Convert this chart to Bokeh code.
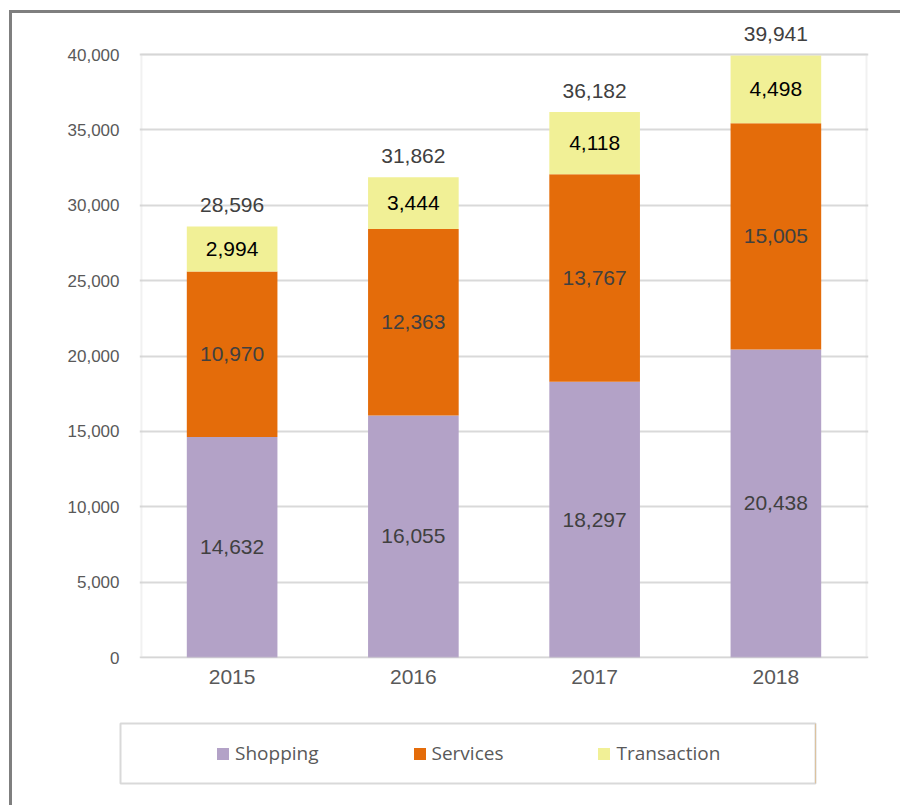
from bokeh.plotting import figure
from bokeh.layouts import row, column
from bokeh.models import (ColumnDataSource, Legend, LegendItem, Div, BoxAnnotation,
                          FixedTicker, NumeralTickFormatter, LabelSet, Range1d, FactorRange)
from bokeh.core.properties import value
from bokeh.embed import file_html
from bokeh.resources import INLINE

# ---- data ----
years = ["2015", "2016", "2017", "2018"]
shopping = [14632, 16055, 18297, 20438]
services = [10970, 12363, 13767, 15005]
transaction = [2994, 3444, 4118, 4498]
totals = [28596, 31862, 36182, 39941]
y_ticks = [0, 5000, 10000, 15000, 20000, 25000, 30000, 35000, 40000]
series_names = ["Shopping", "Services", "Transaction"]
colors = ["#B3A2C7", "#E46C0A", "#F1F096"]

series = [shopping, services, transaction]
data = {"year": years, "total": totals,
        "total_label": [f"{v:,}" for v in totals]}
for name, vals in zip(series_names, series):
    data[name] = vals

bottoms = [0] * len(years)
for name, vals in zip(series_names, series):
    data[name + "_mid"] = [b + v / 2 for b, v in zip(bottoms, vals)]
    data[name + "_label"] = [f"{v:,}" for v in vals]
    bottoms = [b + v for b, v in zip(bottoms, vals)]

source = ColumnDataSource(data)

# ---- layout geometry (pixels) ----
axis_top = y_ticks[-1]
px_per_unit = 603 / axis_top          # plot area: 603 px tall for 0..40,000
extra_top_px = 39                     # room above the plot area for the top total label
y_start = -1 / px_per_unit
y_end = axis_top + extra_top_px / px_per_unit

# ---- main chart ----
p = figure(x_range=FactorRange(*years, range_padding=0.011, range_padding_units="absolute"),
           y_range=Range1d(y_start, y_end),
           width=888, height=687, output_backend="svg", toolbar_location=None,
           min_border_left=127, min_border_right=32, min_border_top=2,
           min_border_bottom=42)

renderers = p.vbar_stack(series_names, x="year", width=0.5, fill_color=colors,
                         line_color=None, source=source)

label_colors = ["#404040", "#404040", "#000000"]
for name, c in zip(series_names, label_colors):
    p.add_layout(LabelSet(x="year", y=name + "_mid", text=name + "_label", source=source,
                          text_align="center", text_baseline="middle",
                          text_font=value("Liberation Sans"), text_font_size="21px",
                          text_color=c))

p.add_layout(LabelSet(x="year", y="total", text="total_label", source=source,
                      text_align="center", text_baseline="middle", y_offset=21,
                      text_font=value("Liberation Sans"), text_font_size="21px",
                      text_color="#404040"))

p.yaxis.ticker = FixedTicker(ticks=y_ticks)
p.yaxis.formatter = NumeralTickFormatter(format="0,0")
for ax in (p.xaxis, p.yaxis):
    ax.axis_line_color = None
    ax.major_tick_line_color = None
    ax.minor_tick_line_color = None
    ax.major_tick_out = 0
    ax.major_tick_in = 0
    ax.major_label_text_font = "Liberation Sans"
    ax.major_label_text_color = "#595959"
p.yaxis.major_label_text_font_size = "17px"
p.yaxis.major_label_standoff = 20
p.xaxis.major_label_text_font_size = "21px"
p.xaxis.major_label_standoff = 11

p.xgrid.grid_line_color = None
p.ygrid.grid_line_color = "#d9d9d9"
p.ygrid.grid_line_width = 2
p.outline_line_color = None

# plot-area border (0..40,000 over all categories)
p.add_layout(BoxAnnotation(left=0, right=len(years), bottom=0, top=axis_top,
                           fill_alpha=0, line_color="#d0d0d0", line_width=2))

# ---- legend panel (its frame is the legend box) ----
q = figure(width=888, height=105, x_range=Range1d(0, 1), y_range=Range1d(0, 1),
           output_backend="svg", toolbar_location=None,
           x_axis_location=None, y_axis_location=None,
           min_border_left=108, min_border_right=85, min_border_top=23, min_border_bottom=22)
q.grid.visible = False
q.outline_line_color = "#d9d9d9"
q.outline_line_width = 2
# legend swatches (placed outside the visible range; only their legend glyphs show)
dummy = [q.vbar(x=[10], top=[1], width=0.5, fill_color=c, line_color=None) for c in colors]
legend = Legend(items=[LegendItem(label=n, renderers=[r]) for n, r in zip(series_names, dummy)],
                orientation="horizontal", location=(95, 17),
                glyph_width=15, glyph_height=15, label_standoff=5, spacing=93,
                padding=0, margin=0, border_line_color=None, background_fill_alpha=0,
                label_text_font="Open Sans", label_text_font_size="19px",
                label_text_color="#595959", label_height=24)
q.add_layout(legend)

# ---- outer chart border (left and top edges) ----
vline = Div(width=3, height=795, margin=0, styles={"background-color": "#7f7f7f"})
hline = Div(width=888, height=3, margin=0, styles={"background-color": "#7f7f7f"})

layout = row(vline, column(hline, column(p), column(q), spacing=0), spacing=0,
             margin=(10, 0, 0, 9))

open("out.html", "w").write(file_html(layout, INLINE))
